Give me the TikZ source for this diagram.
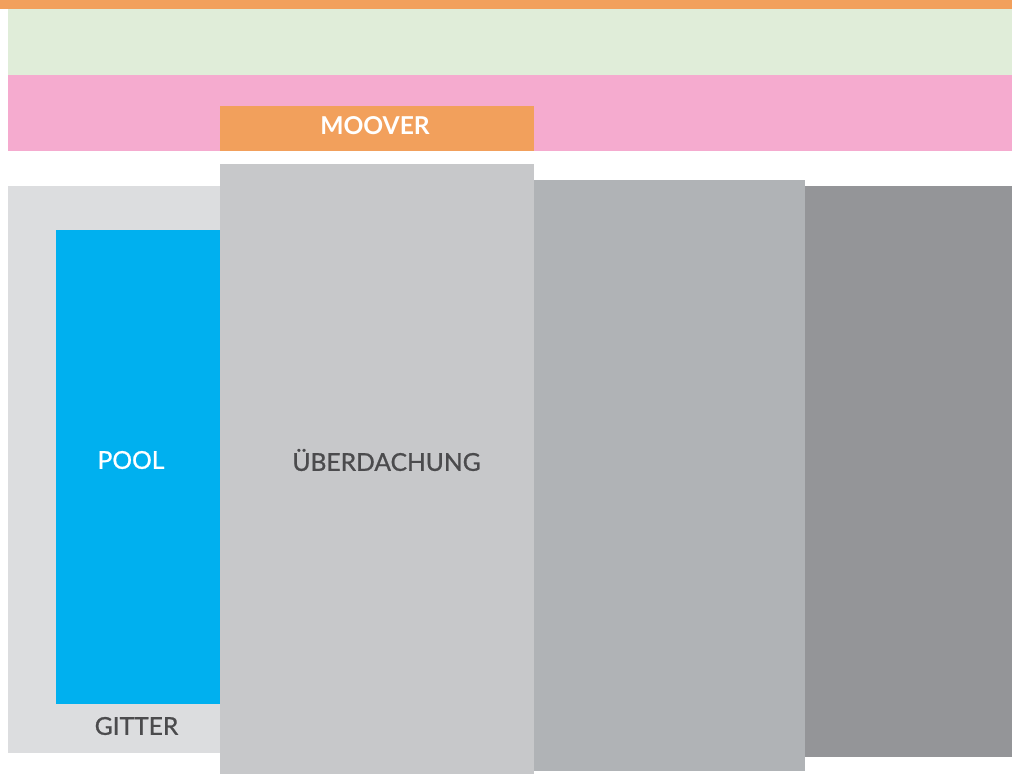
\documentclass[tikz,border=0pt]{standalone}
\usepackage{fontspec}
\setmainfont{Lato}
\newfontfamily\semilato{Lato}[FakeBold=0.9]
\usetikzlibrary{fit}
\definecolor{stripfill}{HTML}{F2A05C}
\definecolor{greenfill}{HTML}{E0EDD9}
\definecolor{pinkfill}{HTML}{F5ABCF}
\definecolor{gitterfill}{HTML}{DCDDDF}
\definecolor{poolfill}{HTML}{00B0EF}
\definecolor{roofgray}{HTML}{C7C8CA}
\definecolor{midgray}{HTML}{B0B3B6}
\definecolor{darkgray}{HTML}{949598}
\definecolor{labtext}{HTML}{4B4B4D}

\begin{document}
\begin{tikzpicture}[x=0.03cm, y=-0.03cm,
  zone/.style={rectangle, inner sep=0pt, outer sep=0pt, draw=none},
  lab/.style={font=\semilato\fontsize{21}{21}\selectfont, text=labtext, inner sep=0pt},
  boldlab/.style={font=\fontsize{21}{21}\selectfont\bfseries, text=white, inner sep=0pt},
]
\useasboundingbox (0,0) rectangle (1012,774);
% bands along the top
\node[zone, fill=greenfill, fit={(8,9) (1012,75)}] (green) {};
\node[zone, fill=pinkfill, fit={(8,75) (1012,151)}] (pink) {};
\node[zone, fill=stripfill, fit={(0,0) (1012,9)}] (strip) {};
\node[zone, fill=stripfill, fit={(220,106) (534,151)}] (moover) {};
\node[boldlab] (mooverlab) at (375,126) {MOOVER};
% ground plan
\node[zone, fill=gitterfill, fit={(8,186) (220,753)}] (gitter) {};
\node[zone, fill=poolfill, fit={(56,230) (220,704)}] (pool) {};
\node[zone, fill=roofgray, fit={(220,164) (534,774)}] (roof) {};
\node[zone, fill=midgray, fit={(534,180) (805,771)}] (midzone) {};
\node[zone, fill=darkgray, fit={(805,186) (1012,757)}] (endzone) {};
\node[lab, text=white] (poollab) at (131,460) {POOL};
\node[lab] (rooflab) at (386.5,460) {ÜBERDACHUNG};
\node[lab] (gitterlab) at (136.5,726) {GITTER};
\end{tikzpicture}
\end{document}
